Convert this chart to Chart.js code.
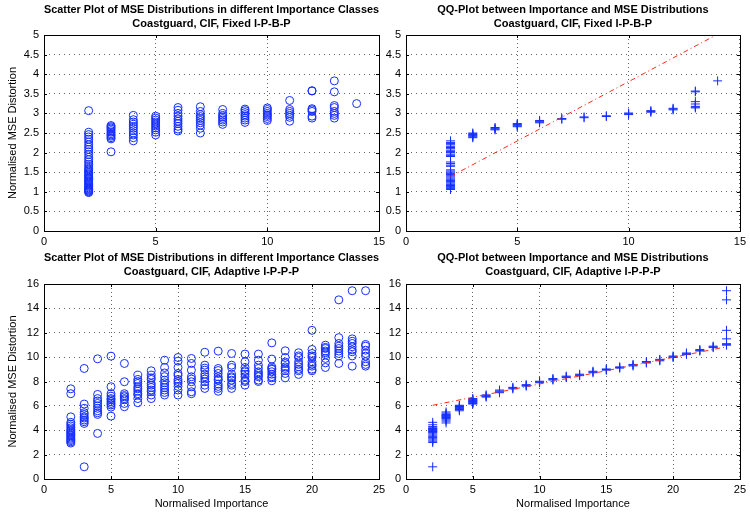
<!DOCTYPE html>
<html>
<head>
<style>
  body { margin: 0; background: #fff; }
  #wrap { position: relative; width: 750px; height: 512px; overflow: hidden; }
  .panel { position: absolute; }
</style>
<script src="https://cdn.jsdelivr.net/npm/chart.js"></script>
</head>
<body>
<div id="wrap">
  <div class="panel" style="left:0;top:0"><canvas id="chartTL" width="390" height="256"></canvas></div>
  <div class="panel" style="left:375px;top:0"><canvas id="chartTR" width="375" height="256"></canvas></div>
  <div class="panel" style="left:0;top:248px"><canvas id="chartBL" width="390" height="264"></canvas></div>
  <div class="panel" style="left:375px;top:248px"><canvas id="chartBR" width="375" height="264"></canvas></div>
</div>
<script>
// importance classes
const fixedClasses = [2, 3, 4, 5, 6, 7, 8, 9, 10, 11, 12, 13, 14];
const adaptiveClasses = [2, 3, 4, 5, 6, 7, 8, 9, 10, 11, 12, 13, 14, 15, 16, 17, 18, 19, 20, 21, 22, 23, 24];

// scatter: MSE values per class (Fixed I-P-B-P)
const fixedMse = [
  [0.98, 1.0, 1.02, 1.04, 1.06, 1.08, 1.1, 1.13, 1.16, 1.19, 1.22, 1.25, 1.28, 1.31, 1.34, 1.37, 1.4, 1.43, 1.46, 1.5, 1.53, 1.56, 1.6, 1.65, 1.7, 1.76, 1.82, 1.88, 1.95, 2.02, 2.08, 2.14, 2.2, 2.27, 2.34, 2.4, 2.46, 2.52, 3.07],
  [2.02, 2.35, 2.38, 2.42, 2.45, 2.48, 2.52, 2.56, 2.6, 2.63, 2.66, 2.69],
  [2.3, 2.38, 2.45, 2.5, 2.56, 2.62, 2.67, 2.72, 2.78, 2.84, 2.95],
  [2.45, 2.52, 2.58, 2.63, 2.68, 2.73, 2.78, 2.83, 2.88, 2.93],
  [2.55, 2.6, 2.67, 2.74, 2.8, 2.86, 2.93, 3.0, 3.08, 3.15],
  [2.5, 2.62, 2.7, 2.76, 2.82, 2.87, 2.92, 2.97, 3.05, 3.17],
  [2.72, 2.78, 2.83, 2.87, 2.91, 2.95, 3.0, 3.1],
  [2.77, 2.83, 2.88, 2.93, 2.97, 3.02, 3.07, 3.11],
  [2.82, 2.87, 2.92, 2.96, 3.0, 3.05, 3.1, 3.14],
  [2.8, 2.9, 2.95, 3.0, 3.05, 3.1, 3.33],
  [2.88, 2.93, 3.05, 3.09, 3.12, 3.57, 3.58],
  [2.88, 2.95, 3.0, 3.05, 3.15, 3.2, 3.55, 3.83],
  [3.25]
];

// QQ: MSE quantiles per importance quantile (Fixed I-P-B-P)
const fixedQQ = [
  [1.06, 1.08, 1.1, 1.12, 1.14, 1.16, 1.18, 1.2, 1.23, 1.26, 1.29, 1.32, 1.35, 1.38, 1.41, 1.44, 1.47, 1.5, 1.53, 1.56, 1.65, 1.68, 1.72, 1.76, 1.9, 1.93, 1.96, 2.0, 2.03, 2.06, 2.1, 2.13, 2.16, 2.2, 2.23, 2.26, 2.3],
  [2.38, 2.4, 2.42, 2.44, 2.46, 2.48, 2.5],
  [2.58, 2.6, 2.62, 2.64],
  [2.66, 2.68, 2.7, 2.72, 2.74],
  [2.76, 2.78, 2.8, 2.82],
  [2.85, 2.87],
  [2.89, 2.91],
  [2.92, 2.94],
  [2.97, 2.99, 3.01],
  [3.03, 3.05, 3.07],
  [3.09, 3.11, 3.13],
  [3.14, 3.16, 3.18, 3.24, 3.3, 3.55, 3.57],
  [3.83]
];
const fixedRefX = [2, 14];
const fixedRefY = [1.39, 5.02];

// scatter: MSE values per class (Adaptive I-P-P-P)
const adaptiveMse = [
  [2.95, 3.05, 3.15, 3.25, 3.35, 3.45, 3.55, 3.65, 3.75, 3.85, 3.95, 4.05, 4.2, 4.35, 4.5, 4.65, 5.1, 7.0, 7.4],
  [1.0, 4.56, 4.7, 4.84, 5.0, 5.1, 5.3, 5.44, 5.8, 6.15, 9.07],
  [3.74, 5.3, 5.44, 5.6, 5.8, 6.0, 6.2, 6.4, 6.6, 6.94, 9.86],
  [5.16, 5.9, 6.07, 6.2, 6.34, 6.5, 6.6, 6.8, 7.0, 7.57, 10.08],
  [5.93, 6.2, 6.5, 6.6, 6.75, 6.85, 7.0, 7.98, 9.48],
  [6.26, 6.6, 6.89, 7.0, 7.21, 7.4, 7.57, 7.84, 8.0, 8.17, 8.52],
  [6.6, 6.89, 7.16, 7.3, 7.51, 7.7, 7.84, 8.17, 8.3, 8.52, 8.88],
  [6.89, 7.1, 7.3, 7.5, 7.7, 7.9, 8.11, 8.4, 8.7, 9.15, 9.75],
  [6.89, 7.3, 7.6, 7.84, 8.0, 8.17, 8.5, 8.66, 9.15, 9.67, 9.97],
  [7.0, 7.16, 7.57, 7.98, 8.2, 8.39, 8.93, 9.48, 9.89],
  [7.43, 7.7, 7.98, 8.2, 8.39, 8.6, 8.93, 9.1, 9.34, 10.4],
  [7.2, 7.43, 7.6, 7.79, 8.11, 8.2, 8.39, 8.66, 8.9, 9.07, 10.49],
  [7.43, 7.7, 7.84, 8.11, 8.3, 8.39, 8.6, 9.15, 9.34, 10.3],
  [7.7, 8.0, 8.11, 8.39, 8.6, 8.8, 8.9, 9.15, 9.62, 10.25],
  [8.0, 8.11, 8.39, 8.5, 8.66, 8.8, 9.07, 9.34, 9.75, 10.25],
  [8.06, 8.3, 8.39, 8.6, 8.8, 9.0, 9.07, 9.2, 9.84, 11.17],
  [8.3, 8.66, 8.9, 9.07, 9.2, 9.48, 9.6, 9.97, 10.52],
  [8.58, 8.88, 9.0, 9.21, 9.4, 9.62, 9.97, 10.1, 10.36],
  [8.88, 9.0, 9.26, 9.4, 9.62, 9.97, 10.1, 10.3, 10.63, 12.2],
  [9.15, 9.53, 9.89, 10.2, 10.36, 10.5, 10.71, 10.8, 10.98],
  [9.48, 10.1, 10.3, 10.5, 10.71, 10.9, 11.12, 11.6, 14.7],
  [9.26, 10.1, 10.44, 10.6, 10.85, 11.12, 11.3, 11.5, 15.45],
  [9.26, 9.4, 9.62, 10.08, 10.3, 10.57, 10.9, 11.04, 15.45]
];

// QQ: MSE quantiles per importance quantile (Adaptive I-P-P-P)
const adaptiveQQ = [
  [1.0, 3.0, 3.1, 3.2, 3.3, 3.4, 3.5, 3.6, 3.7, 3.8, 3.85, 3.9, 3.95, 4.0, 4.05, 4.1, 4.15, 4.2, 4.3, 4.45, 4.65],
  [4.6, 4.75, 4.85, 4.95, 5.0, 5.05, 5.1, 5.15, 5.2, 5.25, 5.3, 5.4, 5.5],
  [5.6, 5.7, 5.75, 5.8, 5.85, 5.9, 5.95, 6.0, 6.05],
  [6.15, 6.2, 6.25, 6.3, 6.35, 6.4, 6.45, 6.5, 6.55, 6.6],
  [6.72, 6.78, 6.84, 6.9],
  [7.08, 7.15, 7.22, 7.3],
  [7.4, 7.46, 7.52],
  [7.62, 7.68, 7.74],
  [7.9, 7.96, 8.02],
  [8.12, 8.18, 8.24],
  [8.32, 8.38, 8.44],
  [8.48, 8.54, 8.6],
  [8.72, 8.78, 8.84],
  [8.93, 8.98, 9.03],
  [9.1, 9.15, 9.2],
  [9.28, 9.34, 9.4],
  [9.52, 9.58, 9.64],
  [9.7, 9.76, 9.82],
  [9.97, 10.03, 10.09],
  [10.22, 10.28, 10.34],
  [10.5, 10.56, 10.62],
  [10.78, 10.84, 10.9],
  [10.98, 11.05, 11.1, 11.5, 12.2, 14.7, 15.45]
];
const adaptiveRefX = [2, 24];
const adaptiveRefY = [6.05, 10.85];

const FONT = "'Liberation Sans', Arial, Helvetica, sans-serif";
const BLUE = 'rgb(20,45,255)';

function toPoints(classes, values) {
  const pts = [];
  classes.forEach((c, i) => {
    values[i].forEach(v => pts.push({ x: c, y: v }));
  });
  return pts;
}

// matlab style box with inward ticks
const boxPlugin = {
  id: 'box',
  afterDraw(chart) {
    const ctx = chart.ctx;
    const a = chart.chartArea;
    ctx.save();
    ctx.strokeStyle = '#000';
    ctx.lineWidth = 1;
    ctx.strokeRect(Math.round(a.left) + 0.5, Math.round(a.top) + 0.5, Math.round(a.right - a.left), Math.round(a.bottom - a.top));
    ctx.beginPath();
    chart.scales.x.ticks.forEach(t => {
      const px = Math.round(chart.scales.x.getPixelForValue(t.value)) + 0.5;
      ctx.moveTo(px, a.bottom); ctx.lineTo(px, a.bottom - 3);
      ctx.moveTo(px, a.top); ctx.lineTo(px, a.top + 3);
    });
    chart.scales.y.ticks.forEach(t => {
      const py = Math.round(chart.scales.y.getPixelForValue(t.value)) + 0.5;
      ctx.moveTo(a.left, py); ctx.lineTo(a.left + 3, py);
      ctx.moveTo(a.right, py); ctx.lineTo(a.right - 3, py);
    });
    ctx.stroke();
    ctx.restore();
  }
};

function makeChart(id, opt) {
  const datasets = [];
  if (opt.qq) {
    datasets.push({
      type: 'line',
      data: opt.refX.map((x, i) => ({ x: x, y: opt.refY[i] })),
      borderColor: 'rgb(255,40,20)',
      borderWidth: 1,
      borderDash: [5, 3, 1, 3],
      pointRadius: 0,
      fill: false
    });
  }
  datasets.push({
    data: toPoints(opt.classes, opt.values),
    pointStyle: opt.qq ? 'cross' : 'circle',
    pointRadius: opt.qq ? 4.5 : 4,
    borderWidth: 1,
    borderColor: BLUE,
    backgroundColor: 'rgba(0,0,0,0)'
  });

  new Chart(document.getElementById(id), {
    type: 'scatter',
    data: { datasets: datasets },
    options: {
      responsive: false,
      animation: false,
      devicePixelRatio: 1,
      layout: { padding: { left: 0, right: opt.padRight, top: 0, bottom: 0 } },
      plugins: {
        legend: { display: false },
        tooltip: { enabled: false },
        title: {
          display: true,
          fullSize: false,
          text: opt.title,
          color: '#000',
          font: { family: FONT, size: 11, weight: 'bold', lineHeight: 1.25 },
          padding: { top: 3.5, bottom: opt.titleBottom }
        }
      },
      scales: {
        x: {
          type: 'linear',
          min: 0, max: opt.xMax,
          afterFit: s => { s.height = opt.xHeight; },
          ticks: { stepSize: 5, padding: 4, color: '#000', font: { family: FONT, size: 11 } },
          grid: { color: 'rgba(0,0,0,0.6)', drawTicks: false },
          border: { display: false, dash: [1, 3] },
          title: {
            display: !!opt.xTitle,
            text: opt.xTitle || '',
            color: '#000',
            font: { family: FONT, size: 11 },
            padding: { top: 2, bottom: 1 }
          }
        },
        y: {
          min: 0, max: opt.yMax,
          afterFit: s => { s.width = opt.yWidth; },
          ticks: {
            stepSize: opt.yStep, padding: 5, color: '#000', font: { family: FONT, size: 11 },
            callback: v => String(Number(v.toFixed(2)))
          },
          grid: { color: 'rgba(0,0,0,0.6)', drawTicks: false },
          border: { display: false, dash: [1, 4] },
          title: {
            display: !!opt.yTitle,
            text: opt.yTitle || '',
            color: '#000',
            font: { family: FONT, size: 11 },
            padding: { top: 6, bottom: 6 }
          }
        }
      }
    },
    plugins: [boxPlugin]
  });
}

makeChart('chartTL', {
  title: ['Scatter Plot of MSE Distributions in different Importance Classes', 'Coastguard, CIF, Fixed I-P-B-P'],
  classes: fixedClasses, values: fixedMse, qq: false,
  xMax: 15, yMax: 5, yStep: 0.5, yWidth: 44, padRight: 11, xHeight: 25, titleBottom: 4,
  yTitle: 'Normalised MSE Distortion'
});
makeChart('chartTR', {
  title: ['QQ-Plot between Importance and MSE Distributions', 'Coastguard, CIF, Fixed I-P-B-P'],
  classes: fixedClasses, values: fixedQQ, qq: true, refX: fixedRefX, refY: fixedRefY,
  xMax: 15, yMax: 5, yStep: 0.5, yWidth: 31, padRight: 8, xHeight: 25, titleBottom: 4
});
makeChart('chartBL', {
  title: ['Scatter Plot of MSE Distributions in different Importance Classes', 'Coastguard, CIF, Adaptive I-P-P-P'],
  classes: adaptiveClasses, values: adaptiveMse, qq: false,
  xMax: 25, yMax: 16, yStep: 2, yWidth: 44, padRight: 11, xHeight: 33, titleBottom: 5,
  yTitle: 'Normalised MSE Distortion', xTitle: 'Normalised Importance'
});
makeChart('chartBR', {
  title: ['QQ-Plot between Importance and MSE Distributions', 'Coastguard, CIF, Adaptive I-P-P-P'],
  classes: adaptiveClasses, values: adaptiveQQ, qq: true, refX: adaptiveRefX, refY: adaptiveRefY,
  xMax: 25, yMax: 16, yStep: 2, yWidth: 31, padRight: 8, xHeight: 33, titleBottom: 5,
  xTitle: 'Normalised Importance'
});
</script>
</body>
</html>
